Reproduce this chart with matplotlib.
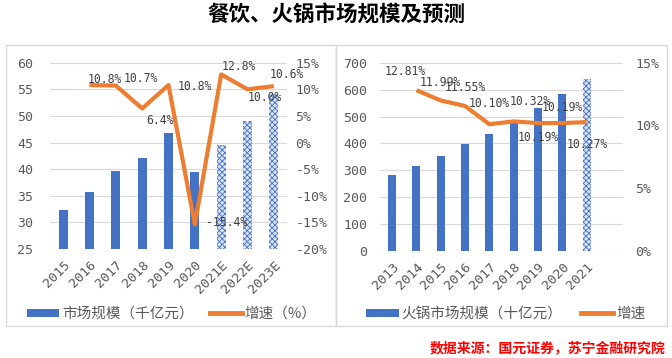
import matplotlib
matplotlib.use("Agg")
import matplotlib.pyplot as plt
from matplotlib.patches import Rectangle, Patch
from matplotlib.lines import Line2D

plt.rcParams['font.family'] = ['Noto Sans CJK SC', 'DejaVu Sans']
plt.rcParams['hatch.linewidth'] = 0.6

# 餐饮市场
anios_c = ["2015", "2016", "2017", "2018", "2019", "2020", "2021E", "2022E", "2023E"]
escala_c = [32.3, 35.7, 39.6, 42.1, 46.7, 39.5, 44.5, 49.0, 54.1]
crec_c = [None, 10.8, 10.7, 6.4, 10.8, -15.4, 12.8, 10.0, 10.6]
etiq_c = ["", "10.8%", "10.7%", "6.4%", "10.8%", "-15.4%", "12.8%", "10.0%", "10.6%"]

# 火锅市场
anios_h = ["2013", "2014", "2015", "2016", "2017", "2018", "2019", "2020", "2021"]
escala_h = [283, 316, 353, 398, 435, 480, 530, 583, 640]
crec_h = [None, 12.81, 11.99, 11.55, 10.10, 10.32, 10.19, 10.19, 10.27]
etiq_h = ["", "12.81%", "11.99%", "11.55%", "10.10%", "10.32%", "10.19%", "10.19%", "10.27%"]

# desplazamiento de etiquetas (pixeles)
desp_c = [(0, 0), (15, 6), (25, 7), (18, -12), (26, -1), (32, 2), (18, 8), (17, -8), (13, 12)]
desp_h = [(0, 0), (-11, 19), (0, 18), (0, 19), (0, 21), (17, 20), (0, -14), (0, 16), (1, -22)]

azul = '#4472C4'
naranja = '#ED7D31'
gris = '#595959'
fuente_num = 'DejaVu Sans Mono'

fig = plt.figure(figsize=(6.72, 3.58), dpi=100)

# marcos de paneles
W, H = 672, 358
for x0, x1 in [(6, 336), (336, 667)]:
    fig.patches.append(Rectangle((x0 / W, 1 - 326 / H), (x1 - x0) / W, (326 - 45) / H,
                                 transform=fig.transFigure, fill=False,
                                 edgecolor='#d9d9d9', linewidth=1))

fig.text(0.5, 1 - 15 / H, "餐饮、火锅市场规模及预测", ha='center', va='center',
         fontsize=15.5, fontweight='bold', color='black')


def panel(rect, cats, barras, lineas, etiquetas, desp, n_est, ylim, yticks,
          y2lim, y2ticks, y2fmt, nslots, pad1, pad2):
    ax = fig.add_axes(rect)
    x = list(range(len(cats)))
    for i in x:
        if i < len(cats) - n_est:
            ax.bar(i, barras[i] - ylim[0], bottom=ylim[0], width=0.33, color=azul, zorder=2)
        else:
            ax.bar(i, barras[i] - ylim[0], bottom=ylim[0], width=0.33, facecolor='#dbe4f5',
                   edgecolor=azul, hatch='xxxxxx', linewidth=0, zorder=2)
    ax.set_xlim(-0.5, nslots - 0.5)
    ax.set_ylim(*ylim)
    ax.set_yticks(yticks)
    ax.set_xticks(x)
    ax.set_xticklabels(cats, rotation=45, ha='right', rotation_mode='anchor',
                       fontsize=9.5, color=gris, family=fuente_num)
    ax.tick_params(axis='y', labelsize=9.5, colors=gris, length=0, pad=pad1)
    ax.tick_params(axis='x', length=0, pad=7)
    for t in ax.get_yticklabels():
        t.set_family(fuente_num)
    ax.grid(axis='y', color='#d9d9d9', linewidth=0.8, zorder=0)
    for s in ax.spines.values():
        s.set_visible(False)

    ax2 = ax.twinx()
    xs = [i for i in x if lineas[i] is not None]
    ys = [lineas[i] for i in xs]
    ax2.plot(xs, ys, color=naranja, linewidth=3, zorder=3, solid_capstyle='butt')
    ax2.set_ylim(*y2lim)
    ax2.set_yticks(y2ticks)
    ax2.set_yticklabels([y2fmt(v) for v in y2ticks], family=fuente_num)
    ax2.tick_params(axis='y', labelsize=9.5, colors=gris, length=0, pad=pad2)
    for s in ax2.spines.values():
        s.set_visible(False)
    for i in xs:
        ax2.annotate(etiquetas[i], (i, lineas[i]), xytext=desp[i], textcoords='offset pixels',
                     ha='center', va='center', fontsize=8.3, color='#404040',
                     family=fuente_num, zorder=4)
    return ax, ax2


panel([50 / W, 1 - 249 / H, 237 / W, (249 - 62.7) / H], anios_c, escala_c, crec_c,
      etiq_c, desp_c, 3, (25, 60), list(range(25, 61, 5)), (-20, 15),
      list(range(-20, 16, 5)), lambda v: f"{v}%", 9, 12, 6)

panel([380 / W, 1 - 251 / H, 243 / W, (251 - 62.7) / H], anios_h, escala_h, crec_h,
      etiq_h, desp_h, 1, (0, 700), list(range(0, 701, 100)), (0, 15),
      [0, 5, 10, 15], lambda v: f"{v}%", 10, 9, 9)

manejadores = [Patch(facecolor=azul, edgecolor='none'),
               Line2D([0], [0], color=naranja, linewidth=3.5)]
fig.legend(manejadores, ["市场规模（千亿元）", "增速（%）"], loc='center',
           bbox_to_anchor=(172 / W, 1 - 314 / H), ncol=2, frameon=False, fontsize=10.5,
           handlelength=2.2, handleheight=0.5, columnspacing=1.1, handletextpad=0.2,
           labelcolor=gris)
fig.legend(manejadores, ["火锅市场规模（十亿元）", "增速"], loc='center',
           bbox_to_anchor=(506 / W, 1 - 314 / H), ncol=2, frameon=False, fontsize=10.5,
           handlelength=2.2, handleheight=0.5, columnspacing=1.3, handletextpad=0.2,
           labelcolor=gris)

fig.text(666 / W, 1 - 348 / H, "数据来源：国元证券，苏宁金融研究院", ha='right', va='center',
         fontsize=10, fontweight='bold', color='#ff0000')

fig.savefig("out.png", dpi=100)
